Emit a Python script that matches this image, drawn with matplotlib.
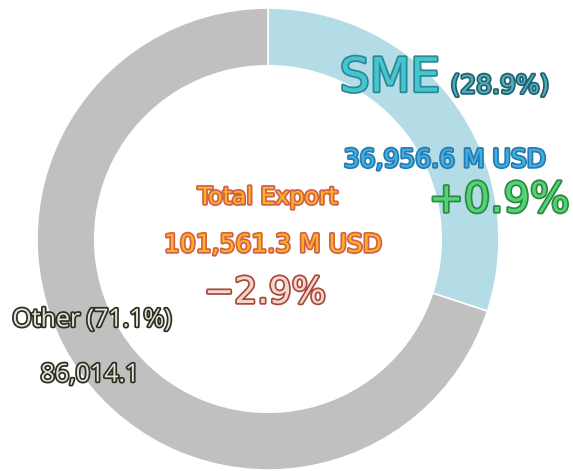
import matplotlib.pyplot as plt
import matplotlib.patheffects as pe

# slice values (M USD)
labels = ['SME', 'Other']
values = [36956.6, 86014.1]
colors = ['#b3dce6', '#c0c0c0']
shares = ['28.9%', '71.1%']
total = '101,561.3 M USD'
total_change = '\u22122.9%'
sme_change = '+0.9%'

fig = plt.figure(figsize=(5.73, 4.71), dpi=100)
ax = fig.add_axes([0, 0, 1, 1])

ax.pie(values, colors=colors, startangle=90, counterclock=False, radius=1,
       wedgeprops=dict(width=0.25, edgecolor='white', linewidth=1.2))
ax.set_aspect('equal')
ax.set_xlim(-268 / 231, 305 / 231)
ax.set_ylim(-232 / 231, 239 / 231)
ax.axis('off')


def stroke(c, w=3):
    return [pe.Stroke(linewidth=w, foreground=c), pe.Normal()]


def px(x, y):
    # pixel position -> data coords
    return (x - 268) / 231, (239 - y) / 231


fam = ['DejaVu Sans']

x, y = px(390, 79)
ax.text(x, y, labels[0], fontsize=34, family=fam, color='#45c6cf', ha='center', va='center',
        path_effects=stroke('#2b8793', 2.5))
x, y = px(500, 86)
ax.text(x, y, '(' + shares[0] + ')', fontsize=18, family=fam, color='#4aafbf', ha='center', va='center',
        path_effects=stroke('#24606c', 2.5))
x, y = px(445, 160)
ax.text(x, y, f'{values[0]:,.1f} M USD', fontsize=18, family=fam, color='#3cb2e2', ha='center', va='center',
        path_effects=stroke('#2a78ae', 2.5))
x, y = px(499, 200)
ax.text(x, y, sme_change, fontsize=30, family=fam, color='#55d276', ha='center', va='center',
        path_effects=stroke('#2a8a40', 2.5))

x, y = px(268, 197)
ax.text(x, y, 'Total Export', fontsize=17, family=fam, color='#ffb224', ha='center', va='center',
        path_effects=stroke('#d2604a', 2.5))
x, y = px(273, 245)
ax.text(x, y, total, fontsize=18, family=fam, color='#ffb224', ha='center', va='center',
        path_effects=stroke('#d2604a', 2.5))
x, y = px(265, 293)
ax.text(x, y, total_change, fontsize=26, family=fam, color='#f6d6cc', ha='center', va='center',
        path_effects=stroke('#a84a3a', 2.5))

fam2 = ['Open Sans', 'DejaVu Sans']
x, y = px(92, 320)
ax.text(x, y, labels[1] + ' (' + shares[1] + ')', fontsize=18, family=fam2, color='#e2e2da',
        ha='center', va='center', path_effects=stroke('#2e2e20', 2.5))
x, y = px(90, 375)
ax.text(x, y, f'{values[1]:,.1f}', fontsize=18, family=fam2, color='#e2e2da',
        ha='center', va='center', path_effects=stroke('#2e2e20', 2.5))

fig.savefig('out.png', dpi=100)
